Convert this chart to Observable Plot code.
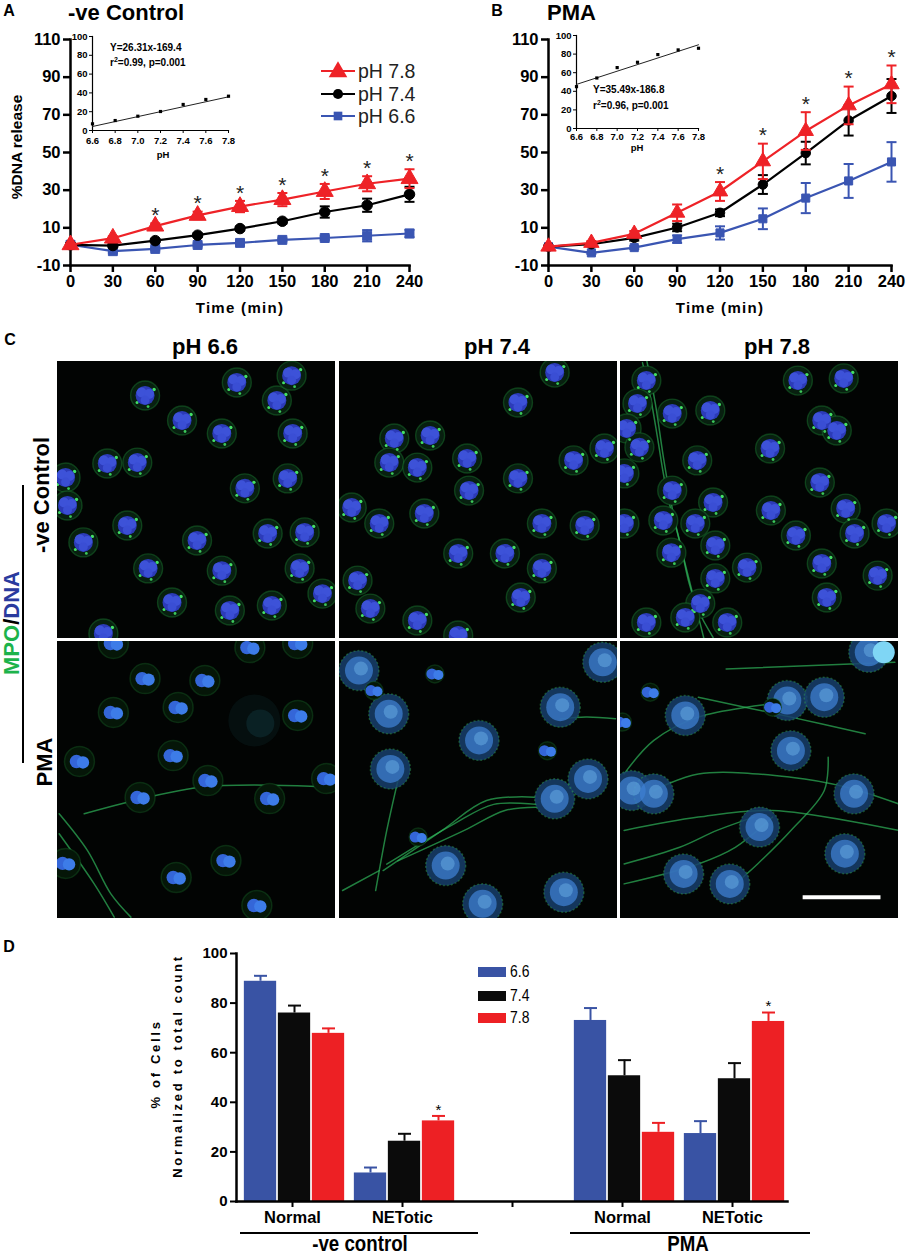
<!DOCTYPE html>
<html>
<head>
<meta charset="utf-8">
<script src="https://cdn.jsdelivr.net/npm/d3@7"></script>
<script src="https://cdn.jsdelivr.net/npm/@observablehq/plot@0.6"></script>
<style>
  body { margin: 0; background: #fff; }
  #fig { position: relative; width: 907px; height: 1256px; overflow: hidden; font-family: "Liberation Sans", Arial, sans-serif; color: #000; }
  #fig svg { max-width: none; }
</style>
</head>
<body>
<div id="fig"></div>
<script>
// ---------------- DATA ----------------
// Panels A & B: time course of % DNA release
const times = [0, 30, 60, 90, 120, 150, 180, 210, 240];
const timeYTicks = [-10, 10, 30, 50, 70, 90, 110];
const phNames = ["pH 7.8", "pH 7.4", "pH 6.6"];
const phColors = ["#ee2227", "#000000", "#3a55b2"];
const phSymbols = ["triangle", "circle", "square"];

// A: -ve control
const ctrlPH78 = [1.0, 4.5, 10.9, 16.6, 21.3, 25.0, 29.3, 33.4, 36.1];
const ctrlPH78Err = [0.6, 1.0, 1.5, 2.0, 3.0, 3.5, 4.0, 4.0, 5.0];
const ctrlPH74 = [1.0, 0.6, 3.2, 6.1, 9.6, 13.5, 18.4, 22.0, 27.8];
const ctrlPH74Err = [0.6, 0.6, 0.8, 1.0, 1.0, 1.2, 3.0, 3.5, 4.0];
const ctrlPH66 = [1.0, -2.4, -1.2, 0.9, 2.0, 3.6, 4.6, 5.8, 7.0];
const ctrlPH66Err = [0.6, 0.8, 0.8, 0.8, 0.8, 0.8, 1.0, 3.0, 2.0];
const ctrlStarTimes = [60, 90, 120, 150, 180, 210, 240];

// B: PMA
const pmaPH78 = [0.0, 2.0, 6.8, 18.0, 29.3, 45.3, 61.4, 75.0, 86.2];
const pmaPH78Err = [0.6, 1.0, 1.5, 4.4, 5.0, 9.4, 10.0, 10.0, 10.0];
const pmaPH74 = [0.0, 1.3, 4.7, 10.2, 18.0, 33.0, 49.7, 67.0, 80.0];
const pmaPH74Err = [0.6, 1.0, 1.5, 2.0, 1.8, 5.0, 6.0, 8.0, 9.0];
const pmaPH66 = [0.0, -3.3, -0.5, 4.0, 7.3, 14.8, 25.8, 34.9, 45.0];
const pmaPH66Err = [0.5, 0.5, 0.8, 2.0, 3.5, 5.5, 8.0, 9.0, 10.5];
const pmaStarTimes = [120, 150, 180, 210, 240];

// Insets: % DNA release at 240 min vs pH
const insetPH = [6.6, 6.8, 7.0, 7.2, 7.4, 7.6, 7.8];
const insetYTicks = [0, 20, 40, 60, 80, 100];
const insetCtrl = [7.1, 10.6, 15.2, 20.2, 27.7, 33.0, 36.5];
const insetPMA = [45.0, 54.3, 65.5, 71.2, 79.5, 84.5, 86.3];
const fitCtrl = { slope: 26.31, intercept: -169.4, eq: "Y=26.31x-169.4", r2: "0.99", p: "0.001" };
const fitPMA = { slope: 35.49, intercept: -186.8, eq: "Y=35.49x-186.8", r2: "0.96", p: "0.001" };

// Panel C: micrographs (cell centres in % of field width / height)
const micrographCols = ["pH 6.6", "pH 7.4", "pH 7.8"];
const micrographRows = ["-ve Control", "PMA"];
const cellsCtrl66 = [[31.5,12.3],[64.5,7.6],[78.9,14.1],[84.2,5.1],[44.8,21.3],[59.1,26.0],[84.6,26.0],[17.9,36.8],[28.7,36.5],[2.9,41.9],[67.4,45.8],[82.8,42.2],[3.6,52.0],[25.1,59.2],[50.2,64.6],[75.6,62.1],[88.9,61.7],[9.3,65.3],[32.6,74.7],[59.1,75.5],[87.1,74.7],[41.2,87.0],[62.0,89.9],[77.1,88.1],[95.3,83.8],[16.5,98.2]];
const cellsCtrl74 = [[77.4,4.0],[64.2,14.8],[32.6,26.7],[19.7,27.8],[17.9,36.5],[28.0,38.3],[45.9,35.0],[64.2,42.2],[46.6,46.6],[4.4,52.7],[14.3,58.5],[30.5,54.9],[72.8,58.5],[88.2,59.2],[84.2,35.7],[95.3,31.4],[42.7,69.3],[59.5,69.3],[72.8,74.7],[6.5,79.1],[11.1,89.2],[28.0,93.5],[65.2,85.2],[42.7,98.9]];
const cellsCtrl78 = [[9.3,6.9],[6.1,15.2],[18.6,18.8],[32.3,17.7],[63.8,6.9],[80.3,6.1],[72.4,21.3],[77.8,24.9],[2.2,24.2],[6.8,31.0],[27.6,35.7],[53.8,31.4],[71.7,43.7],[18.6,46.6],[33.3,50.9],[54.1,53.8],[81.0,53.1],[15.4,57.4],[26.9,58.5],[34.1,66.4],[18.3,69.0],[63.1,62.8],[84.2,62.1],[95.7,58.5],[45.5,74.4],[72.4,72.9],[92.5,77.3],[34.1,78.3],[74.2,85.2],[28.7,87.4],[23.3,92.4],[38.4,94.2],[9.3,94.2],[1.4,40.4],[1.4,58.5]];
const fibersCtrl78 = [
  [[7.9,0.4],[10.8,13.0],[13.3,27.4],[15.4,40.4],[17.6,51.3],[21.5,65.7],[24.7,80.1],[28.0,89.9],[33.3,99.6]],
  [[9.5,0.0],[12.5,15.0],[15.5,35.0],[19.0,55.0],[22.5,70.0],[26.0,84.0],[30.0,100.0]]
];
const nucleiPMA66 = [[20.1,0.7],[69.2,2.2],[86.4,0.7],[31.5,13.4],[53.0,14.1],[20.1,25.6],[43.4,23.8],[86.4,26.7],[41.6,41.2],[7.9,43.3],[54.1,50.2],[96.8,49.5],[29.7,56.3],[76.3,56.7],[2.9,80.1],[60.6,79.1],[42.7,85.2],[71.7,95.3]];
const hazePMA66 = [[70.8,28.5]];
const fibersPMA66 = [
  [[0.6,62.2],[10.8,75.5],[19.2,91.1],[26.4,99.5]],
  [[0.6,69.4],[13.2,87.5],[20.4,99.5]],
  [[9.6,62.2],[51.6,52.6],[99.6,52.6]]
];
const netsPMA74 = [[7.0,10.5],[17.7,26.1],[18.3,46.0],[50.2,35.7],[79.4,23.7],[77.4,56.8],[89.4,49.6],[94.7,7.5],[38.2,80.9],[80.7,90.5],[51.5,94.7]];
const nucleiPMA74 = [[34.3,11.7],[12.4,17.7],[74.8,39.4],[28.3,70.6]];
const fibersPMA74 = [
  [[13.0,89.9],[14.3,82.7],[17.0,68.2],[21.0,50.2]],
  [[15.7,82.7],[36.9,68.2],[52.9,57.4],[70.1,56.2]],
  [[17.0,80.4],[40.9,66.0],[55.5,58.8],[70.8,58.8]],
  [[21.0,79.2],[44.9,68.2],[59.5,61.0],[70.8,59.8]],
  [[79.4,28.0],[88.7,27.3],[99.3,27.9]],
  [[1.1,89.9],[14.3,82.7]]
];
const netsPMA78 = [[89.3,3.9],[23.3,26.7],[60.0,21.3],[73.3,20.1],[61.3,39.4],[4.0,53.8],[12.0,55.0],[50.0,67.0],[22.7,83.9],[39.3,87.5],[80.7,76.6],[84.0,55.0]];
const brightPMA78 = [[94.7,3.9]];
const nucleiPMA78 = [[10.7,18.3],[0.7,29.1],[54.7,23.7]];
const fibersPMA78 = [
  [[38.0,9.9],[98.7,7.5]],
  [[1.3,47.8],[12.0,35.7],[28.0,27.3],[54.7,22.5]],
  [[1.3,87.5],[28.0,80.3],[41.3,74.3],[54.7,63.4]],
  [[1.3,68.2],[28.0,63.4],[54.7,61.0],[100,68.2]],
  [[12.0,53.8],[28.0,47.8],[61.3,49.0],[81.3,52.6],[100,58.6]],
  [[28.0,20.1],[61.3,27.3],[88.0,33.3]],
  [[74.7,41.8],[73.3,53.8],[61.3,68.2],[49.3,80.3],[41.3,87.5]],
  [[1.3,80.3],[21.3,74.3],[34.7,68.2],[48.0,63.4]]
];
const scaleBarPMA78 = [{ x1: 65.7, x2: 93.7, y: 92.3 }];

// Panel D: % of cells normalised to total count
const dGroups = ["ctrl-Normal", "ctrl-NETotic", "gap", "PMA-Normal", "PMA-NETotic"];
const dTickText = ["Normal", "NETotic", "", "Normal", "NETotic"];
const dPH = ["6.6", "7.4", "7.8"];
const dColors = ["#3953a4", "#0b0b0b", "#ed2024"];
const dYTicks = [0, 20, 40, 60, 80, 100];
const dCtrlNormal = [88.8, 76.0, 67.8];
const dCtrlNormalErr = [2.2, 3.0, 2.0];
const dCtrlNET = [11.5, 24.3, 32.5];
const dCtrlNETErr = [2.2, 3.0, 2.0];
const dPMANormal = [73.0, 50.7, 27.9];
const dPMANormalErr = [5.0, 6.3, 3.8];
const dPMANET = [27.4, 49.5, 72.6];
const dPMANETErr = [5.0, 6.3, 3.6];
const dStars = [["ctrl-NETotic", "7.8"], ["PMA-NETotic", "7.8"]];
const dSuperGroups = ["-ve control", "PMA"];

// ---------------- HELPERS ----------------
const FONT = '"Liberation Sans", Arial, sans-serif';
const fig = document.getElementById("fig");

function place(node, left, top, clip) {
  const d = document.createElement("div");
  d.style.cssText = `position:absolute;left:${left}px;top:${top}px;${clip ? "overflow:hidden;" : ""}`;
  d.appendChild(node);
  fig.appendChild(d);
  return d;
}
function txt(html, x, y, css, opts = {}) {
  const d = document.createElement("div");
  d.innerHTML = html;
  const a = opts.anchor || "middle";
  const tx = a === "start" ? "0" : a === "end" ? "-100%" : "-50%";
  const extra = (opts.rotate ? ` rotate(${opts.rotate}deg)` : "") + (opts.scaleX ? ` scaleX(${opts.scaleX})` : "");
  d.style.cssText = `position:absolute;left:${x}px;top:${y}px;white-space:nowrap;line-height:1;transform-origin:${a === "start" ? "0 50%" : "50% 50%"};transform:translate(${tx},-50%)${extra};${css}`;
  fig.appendChild(d);
  return d;
}
function hline(x1, x2, y, w) {
  const d = document.createElement("div");
  d.style.cssText = `position:absolute;left:${x1}px;top:${y - w / 2}px;width:${x2 - x1}px;height:${w}px;background:#000;`;
  fig.appendChild(d);
}
function vline(x, y1, y2, w) {
  const d = document.createElement("div");
  d.style.cssText = `position:absolute;left:${x - w / 2}px;top:${y1}px;width:${w}px;height:${y2 - y1}px;background:#000;`;
  fig.appendChild(d);
}
const hyphen = (d) => String(d);
// error-bar cap: a horizontal stroke of half-width r
const capSymbol = { draw(ctx, size) { const w = Math.sqrt(size / Math.PI); ctx.moveTo(-w, 0); ctx.lineTo(w, 0); } };

// ---------------- PANELS A & B ----------------
function timeChart(seriesList, starTimes, { width, marginRight, markerScale }) {
  const rows = seriesList.flatMap((s) => times.map((t, i) => ({ t, v: s.values[i], e: s.errs[i], ph: s.name, color: s.color, symbol: s.symbol })));
  const marks = [
    Plot.axisX({ ticks: times, tickSize: 7, tickPadding: 3, strokeWidth: 2.5, label: null, tickFormat: hyphen }),
    Plot.axisY({ ticks: timeYTicks, tickSize: 7, tickPadding: 3, strokeWidth: 2.5, label: null, tickFormat: hyphen }),
    Plot.frame({ anchor: "left", strokeWidth: 2.5 }),
    Plot.frame({ anchor: "bottom", strokeWidth: 2.5 })
  ];
  const sizes = { triangle: 6.0 * markerScale, circle: 5.0 * markerScale, square: 4.8 * markerScale };
  for (const s of [...seriesList].reverse()) {
    const r = rows.filter((d) => d.ph === s.name);
    marks.push(
      Plot.ruleX(r, { x: "t", y1: (d) => d.v - d.e, y2: (d) => d.v + d.e, stroke: s.color, strokeWidth: 2 }),
      Plot.dot(r, { x: "t", y: (d) => d.v + d.e, symbol: capSymbol, r: 5, stroke: s.color, strokeWidth: 2, fill: "none" }),
      Plot.dot(r, { x: "t", y: (d) => d.v - d.e, symbol: capSymbol, r: 5, stroke: s.color, strokeWidth: 2, fill: "none" }),
      Plot.line(r, { x: "t", y: "v", stroke: s.color, strokeWidth: 2.2 }),
      Plot.dot(r, { x: "t", y: "v", symbol: s.symbol, r: sizes[s.symbol], fill: s.color, stroke: s.color, strokeWidth: 1 })
    );
  }
  const top = rows.filter((d) => d.ph === seriesList[0].name && starTimes.includes(d.t));
  marks.push(Plot.text(top, { x: "t", y: (d) => d.v + d.e, text: () => "*", dy: -8, fontSize: 21, fontWeight: "normal", fill: "#222" }));
  return Plot.plot({
    width, height: 300, marginLeft: 70, marginRight, marginTop: 11, marginBottom: 63,
    x: { domain: [0, 240] },
    y: { domain: [-10, 110] },
    style: { fontFamily: FONT, fontSize: "16.5px", fontWeight: "bold", color: "#000", overflow: "visible", background: "transparent" },
    marks
  });
}

function insetChart(values, fit, { width, height, marginLeft, marginTop, marginBottom, marginRight, tickPadding }) {
  const pts = insetPH.map((x, i) => ({ x, y: values[i] }));
  const x0 = insetPH[0], x1 = insetPH[insetPH.length - 1];
  const fitLine = [{ x: x0, y: fit.slope * x0 + fit.intercept }, { x: x1, y: fit.slope * x1 + fit.intercept }];
  return Plot.plot({
    width, height, marginLeft, marginTop, marginBottom, marginRight,
    x: { domain: [x0, x1] },
    y: { domain: [0, 100] },
    style: { fontFamily: FONT, fontSize: "9.5px", fontWeight: "bold", color: "#000", overflow: "visible", background: "transparent" },
    marks: [
      Plot.frame({ anchor: "left", strokeWidth: 1.2 }),
      Plot.frame({ anchor: "bottom", strokeWidth: 1.2 }),
      Plot.axisX({ ticks: insetPH, tickFormat: d3.format(".1f"), tickSize: 3, tickPadding, label: null }),
      Plot.axisY({ ticks: insetYTicks, tickSize: 3, tickPadding: 2, label: null }),
      Plot.line(fitLine, { x: "x", y: "y", stroke: "#222", strokeWidth: 1 }),
      Plot.dot(pts, { x: "x", y: "y", symbol: "square", r: 1.8, fill: "#000" })
    ]
  });
}

const ctrlSeries = [
  { name: phNames[0], color: phColors[0], symbol: phSymbols[0], values: ctrlPH78, errs: ctrlPH78Err },
  { name: phNames[1], color: phColors[1], symbol: phSymbols[1], values: ctrlPH74, errs: ctrlPH74Err },
  { name: phNames[2], color: phColors[2], symbol: phSymbols[2], values: ctrlPH66, errs: ctrlPH66Err }
];
const pmaSeries = [
  { name: phNames[0], color: phColors[0], symbol: phSymbols[0], values: pmaPH78, errs: pmaPH78Err },
  { name: phNames[1], color: phColors[1], symbol: phSymbols[1], values: pmaPH74, errs: pmaPH74Err },
  { name: phNames[2], color: phColors[2], symbol: phSymbols[2], values: pmaPH66, errs: pmaPH66Err }
];

place(timeChart(ctrlSeries, ctrlStarTimes, { width: 440, marginRight: 31, markerScale: 1.05 }), 0, 28);
place(timeChart(pmaSeries, pmaStarTimes, { width: 429, marginRight: 16, markerScale: 0.95 }), 478, 28);
place(insetChart(insetCtrl, fitCtrl, { width: 180, height: 140, marginLeft: 30, marginTop: 8, marginBottom: 38, marginRight: 14, tickPadding: 4 }), 62, 28);
place(insetChart(insetPMA, fitPMA, { width: 166, height: 140, marginLeft: 30, marginTop: 7, marginBottom: 40, marginRight: 14, tickPadding: 2 }), 546, 28);

// titles and labels for A/B
txt("A", 9, 11, `font:bold 16px ${FONT};`);
txt("-ve Control", 68, 13, `font:bold 22px ${FONT};`, { anchor: "start" });
txt("B", 497, 11, `font:bold 16px ${FONT};`);
txt("PMA", 547, 13, `font:bold 22px ${FONT};`, { anchor: "start" });
txt("%DNA release", 17, 147, `font:bold 15.5px ${FONT};`, { rotate: -90 });
txt("Time (min)", 240, 307, `font:bold 15px ${FONT};letter-spacing:1.3px;`);
txt("Time (min)", 720, 307, `font:bold 15px ${FONT};letter-spacing:1.3px;`);
txt(fitCtrl.eq, 110, 47, `font:bold 10px ${FONT};`, { anchor: "start" });
txt(`r<sup style="font-size:7px;vertical-align:4px">2</sup>=${fitCtrl.r2}, p=${fitCtrl.p}`, 110, 62, `font:bold 10px ${FONT};`, { anchor: "start" });
txt("pH", 163, 154, `font:bold 9.5px ${FONT};`);
txt(fitPMA.eq, 593, 89, `font:bold 10px ${FONT};`, { anchor: "start" });
txt(`r<sup style="font-size:7px;vertical-align:4px">2</sup>=${fitPMA.r2}, p=${fitPMA.p}`, 593, 105, `font:bold 10px ${FONT};`, { anchor: "start" });
txt("pH", 637, 147, `font:bold 9.5px ${FONT};`);

// legend for A
const legendY = [71, 94, 116];
phNames.forEach((name, i) => {
  const sym = { triangle: d3.symbolTriangle, circle: d3.symbolCircle, square: d3.symbolSquare }[phSymbols[i]];
  const size = { triangle: 150, circle: 80, square: 75 }[phSymbols[i]];
  const path = d3.symbol(sym, size)();
  const html = `<svg width="36" height="20" style="display:block"><line x1="1" x2="35" y1="10" y2="10" stroke="${phColors[i]}" stroke-width="2.2"/><path d="${path}" transform="translate(18,${phSymbols[i] === "triangle" ? 11 : 10})" fill="${phColors[i]}"/></svg>`;
  txt(html, 320, legendY[i], "", { anchor: "start" });
  txt(name, 358, legendY[i], `font:19.5px ${FONT};color:#222;`, { anchor: "start" });
});

// ---------------- PANEL C ----------------
function micrograph({ cells = [], nets = [], bright = [], nuclei = [], fibers = [], haze = [], bar = [], smallNuclei = false }) {
  const fiberRows = fibers.flatMap((path, id) => path.map(([x, y]) => ({ id, x, y })));
  const px = (d) => d[0], py = (d) => d[1];
  const nr = smallNuclei ? 5 : 6.2;
  return Plot.plot({
    width: 278, height: 277, margin: 0,
    x: { domain: [0, 100], axis: null },
    y: { domain: [0, 100], axis: null, reverse: true },
    style: { background: "#020403" },
    marks: [
      Plot.frame({ fill: "#020403", stroke: "none" }),
      Plot.dot(haze, { x: px, y: py, r: 26, fill: "#123a40", fillOpacity: 0.2 }),
      Plot.dot(haze, { x: px, y: py, r: 14, fill: "#1d6a78", fillOpacity: 0.2, dx: 6, dy: 3 }),
      Plot.line(fiberRows, { x: "x", y: "y", z: "id", stroke: "#2fb35a", strokeWidth: 1.5, strokeOpacity: 0.7, curve: "catmull-rom" }),
      // resting neutrophils: MPO granules (green) round a lobed nucleus (blue)
      Plot.dot(cells, { x: px, y: py, r: 14.5, fill: "#082010", stroke: "#23983c", strokeWidth: 1.4, strokeOpacity: 0.35 }),
      Plot.dot(cells, { x: px, y: py, r: 1.7, fill: "#44e066", dx: 9, dy: -6 }),
      Plot.dot(cells, { x: px, y: py, r: 1.5, fill: "#44e066", dx: -8, dy: 7 }),
      Plot.dot(cells, { x: px, y: py, r: 1.4, fill: "#3cc85a", dx: 3, dy: 11 }),
      Plot.dot(cells, { x: px, y: py, r: 9.5, fill: "#2c3bb8" }),
      Plot.dot(cells, { x: px, y: py, r: 5, fill: "#3d52d8", dx: -3.5, dy: -3 }),
      Plot.dot(cells, { x: px, y: py, r: 5, fill: "#3d52d8", dx: 4, dy: -1.5 }),
      Plot.dot(cells, { x: px, y: py, r: 4.5, fill: "#3a4ed4", dx: 0, dy: 4.5 }),
      // NETotic cells: decondensed chromatin spread with MPO
      Plot.dot(nets, { x: px, y: py, r: 20, fill: "#173f6c", fillOpacity: 0.85, stroke: "#34ad50", strokeWidth: 1.5, strokeOpacity: 0.4, strokeDasharray: "2 2" }),
      Plot.dot(nets, { x: px, y: py, r: 14, fill: "#3e7fd0", fillOpacity: 0.75 }),
      Plot.dot(nets, { x: px, y: py, r: 7, fill: "#6fb6ea", fillOpacity: 0.45, dx: 2, dy: -2 }),
      Plot.dot(bright, { x: px, y: py, r: 11, fill: "#7fd6f5" }),
      // intact bilobed nuclei
      Plot.dot(nuclei, { x: px, y: py, r: smallNuclei ? 9 : 15, fill: "#051608", stroke: "#1e7a33", strokeOpacity: 0.3 }),
      Plot.dot(nuclei, { x: px, y: py, r: nr + 0.5, fill: "#3466d8", dx: -3 }),
      Plot.dot(nuclei, { x: px, y: py, r: nr, fill: "#3d7ce8", dx: 3.5, dy: 1 }),
      Plot.ruleY(bar, { x1: "x1", x2: "x2", y: "y", stroke: "#fff", strokeWidth: 4 })
    ]
  });
}
const colLefts = [57, 339, 620];
const rowTops = [361, 641];
const panels = [
  [{ cells: cellsCtrl66 }, { cells: cellsCtrl74 }, { cells: cellsCtrl78, fibers: fibersCtrl78 }],
  [{ nuclei: nucleiPMA66, fibers: fibersPMA66, haze: hazePMA66 },
   { nets: netsPMA74, nuclei: nucleiPMA74, fibers: fibersPMA74, smallNuclei: true },
   { nets: netsPMA78, bright: brightPMA78, nuclei: nucleiPMA78, fibers: fibersPMA78, bar: scaleBarPMA78, smallNuclei: true }]
];
panels.forEach((row, r) => row.forEach((p, c) => {
  const w = place(micrograph(p), colLefts[c], rowTops[r], true);
  w.style.width = "278px"; w.style.height = "277px";
}));
txt("C", 10, 340, `font:bold 16px ${FONT};`);
const headerX = [205, 497, 777];
micrographCols.forEach((h, i) => txt(h, headerX[i], 347, `font:bold 22px ${FONT};`));
txt(micrographRows[0], 42, 495, `font:bold 22px ${FONT};`, { rotate: -90 });
txt(micrographRows[1], 45, 762, `font:bold 22px ${FONT};`, { rotate: -90 });
txt(`<span style="color:#1db34b">MPO</span>/<span style="color:#2a3a9e">DNA</span>`, 12, 623, `font:bold 22px ${FONT};`, { rotate: -90 });
vline(23, 485, 763, 1.5);

// ---------------- PANEL D ----------------
const dSets = [dCtrlNormal, dCtrlNET, null, dPMANormal, dPMANET];
const dErrs = [dCtrlNormalErr, dCtrlNETErr, null, dPMANormalErr, dPMANETErr];
const dRows = dGroups.flatMap((g, gi) => dSets[gi] ? dPH.map((ph, i) => ({ g, ph, i, v: dSets[gi][i], e: dErrs[gi][i] })) : []);
const barW = 32.5, pitch = 34;
function barChartD() {
  const marks = [];
  const bandwidth = (680 - 106 - 23) / dGroups.length;
  const inset = (bandwidth - barW) / 2;
  dPH.forEach((ph, i) => {
    const r = dRows.filter((d) => d.ph === ph);
    const dx = (i - 1) * pitch + 2;
    marks.push(
      Plot.barY(r, { x: "g", y: "v", fill: dColors[i], insetLeft: inset, insetRight: inset, dx }),
      Plot.ruleX(r, { x: "g", y1: "v", y2: (d) => d.v + d.e, dx, stroke: dColors[i], strokeWidth: 2 }),
      Plot.dot(r, { x: "g", y: (d) => d.v + d.e, dx, symbol: capSymbol, r: 6.5, stroke: dColors[i], strokeWidth: 2, fill: "none" })
    );
  });
  const starRows = dRows.filter((d) => dStars.some(([g, ph]) => g === d.g && ph === d.ph));
  marks.push(
    Plot.text(starRows, { x: "g", y: (d) => d.v + d.e, dx: (dPH.indexOf("7.8") - 1) * pitch + 2, dy: -6, text: () => "*", fontSize: 15, fontWeight: "normal" }),
    Plot.frame({ anchor: "left", strokeWidth: 2.5 }),
    Plot.frame({ anchor: "bottom", strokeWidth: 2.5 }),
    Plot.axisY({ ticks: dYTicks, tickSize: 6, tickPadding: 3, strokeWidth: 2, label: null, fontSize: 15 }),
    Plot.axisX({ tickSize: 6, tickPadding: 4, strokeWidth: 2, tickFormat: (d) => dTickText[dGroups.indexOf(d)], label: null, fontSize: 16.5 })
  );
  return Plot.plot({
    width: 680, height: 321, marginLeft: 106, marginRight: 23, marginTop: 18, marginBottom: 55,
    x: { domain: dGroups, padding: 0 },
    y: { domain: [0, 100] },
    style: { fontFamily: FONT, fontSize: "15px", fontWeight: "bold", color: "#000", overflow: "visible", background: "transparent" },
    marks
  });
}
place(barChartD(), 130, 935);
txt("D", 9, 947, `font:bold 16px ${FONT};`);
txt("% of Cells", 155, 1064, `font:bold 13px ${FONT};letter-spacing:2.7px;`, { rotate: -90 });
txt("Normalized to total count", 177, 1066, `font:bold 13px ${FONT};letter-spacing:2.7px;`, { rotate: -90 });
const dLegendY = [972, 996, 1018];
dPH.forEach((ph, i) => {
  txt(`<div style="width:28px;height:10px;background:${dColors[i]}"></div>`, 478, dLegendY[i], "", { anchor: "start" });
  txt(ph, 510, dLegendY[i], `font:17px ${FONT};`, { anchor: "start", scaleX: 0.82 });
});
hline(240, 478, 1233, 1.6);
hline(570, 810, 1233, 1.6);
txt(dSuperGroups[0], 360, 1244, `font:bold 22px ${FONT};`, { scaleX: 0.85 });
txt(dSuperGroups[1], 688, 1244, `font:bold 22px ${FONT};`, { scaleX: 0.85 });
</script>
</body>
</html>
